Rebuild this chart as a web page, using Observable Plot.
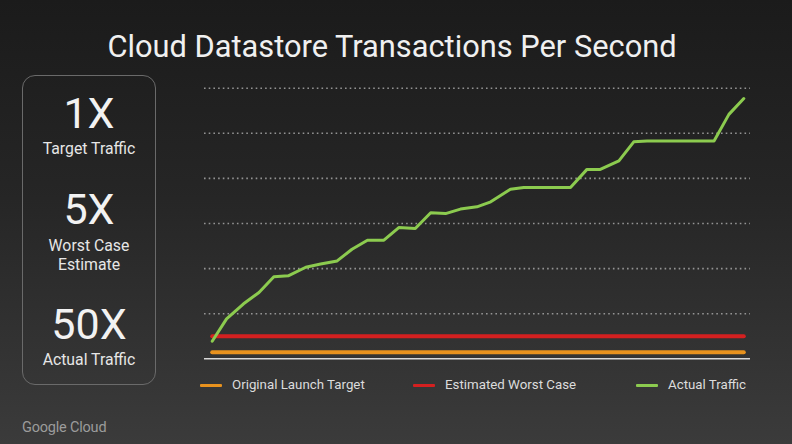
<!DOCTYPE html>
<html>
<head>
<meta charset="utf-8">
<script src="https://cdn.jsdelivr.net/npm/d3@7"></script>
<script src="https://cdn.jsdelivr.net/npm/@observablehq/plot@0.6"></script>
<style>
  html, body { margin: 0; padding: 0; }
  body { width: 792px; height: 444px; overflow: hidden; position: relative;
         background: linear-gradient(to bottom, #1b1b1b 0%, #262626 45%, #3b3b3b 100%);
         font-family: Roboto, "Noto Sans", sans-serif; color: #f2f2f2; }
  #title { position: absolute; left: 0; width: 784px; top: 28px; text-align: center;
           font-size: 30.8px; line-height: 38px; color: #f0f0f0; }
  #box { position: absolute; left: 22px; top: 75px; width: 134px; height: 310px;
         border: 1.3px solid #6a6a6a; border-radius: 13px; box-sizing: border-box; }
  .big { position: absolute; left: 22px; width: 134px; text-align: center; font-size: 43px; line-height: 46px; color: #f2f2f2; }
  .small { position: absolute; left: 22px; width: 134px; text-align: center; font-size: 15.8px; line-height: 19px; color: #e6e6e6; }
  #chart { position: absolute; left: 0; top: 0; }
  #legend { position: absolute; top: 376px; left: 0; width: 792px; height: 18px; font-size: 13.3px; color: #dcdcdc; }
  .item { position: absolute; top: 0; line-height: 18px; white-space: nowrap; }
  .sw { display: inline-block; width: 22px; height: 3.5px; vertical-align: middle; margin-right: 10px; border-radius: 1px; }
  #brand { position: absolute; left: 22px; top: 419px; font-size: 14.5px; color: #9c9c9c; letter-spacing: -0.2px; }
</style>
</head>
<body>
<div id="title">Cloud Datastore Transactions Per Second</div>
<div id="box"></div>
<div id="stats"></div>
<div id="chart"></div>
<div id="legend"></div>
<div id="brand">Google Cloud</div>
<script>
// Series values (time index 0–100, traffic in arbitrary units)
const actualX = [0, 2.7, 5.9, 8.8, 11.6, 14.3, 17.6, 20.4, 23.5, 26.3, 29.2, 32.3, 35.1, 38.2, 41.1, 43.9, 46.7, 49.8, 52.4, 56.1, 58.6, 67.4, 70.5, 73.0, 76.5, 79.3, 81.8, 94.4, 97.2, 100];
const actualY = [3.9, 8.85, 12.2, 14.7, 18.2, 18.4, 20.3, 21.0, 21.7, 24.3, 26.3, 26.3, 29.1, 28.9, 32.4, 32.2, 33.2, 33.7, 34.8, 37.6, 38.0, 38.0, 42.0, 42.0, 43.9, 48.1, 48.3, 48.3, 54.2, 57.7];
const launchTarget = 1.45;
const worstCase = 5.0;
const xStart = 0, xEnd = 100;
const gridTicks = [10, 20, 30, 40, 50, 60];

const seriesNames = ["Original Launch Target", "Estimated Worst Case", "Actual Traffic"];
const seriesColors = ["#e8921e", "#d42020", "#8ccb4f"];

const statBig = ["1X", "5X", "50X"];
const statSmall = [["Target Traffic"], ["Worst Case", "Estimate"], ["Actual Traffic"]];
const statBigTop = [90, 186, 301];
const statSmallTop = [139, 236, 350];

// left stats box
const stats = document.getElementById("stats");
statBig.forEach((t, i) => {
  const b = document.createElement("div");
  b.className = "big"; b.style.top = statBigTop[i] + "px"; b.textContent = t;
  stats.appendChild(b);
  const s = document.createElement("div");
  s.className = "small"; s.style.top = statSmallTop[i] + "px";
  s.innerHTML = statSmall[i].join("<br>");
  stats.appendChild(s);
});

const actual = actualX.map((x, i) => ({x, y: actualY[i]}));
const flat = (v) => [{x: xStart, y: v}, {x: xEnd, y: v}];

const plot = Plot.plot({
  width: 792,
  height: 444,
  marginLeft: 204,
  marginRight: 42,
  marginTop: 87.7,
  marginBottom: 85.7,
  insetLeft: 7.7,
  insetRight: 6.7,
  x: {domain: [xStart, xEnd], axis: null},
  y: {domain: [0, 60], axis: null},
  style: {background: "transparent", overflow: "visible"},
  marks: [
    Plot.ruleY(gridTicks, {stroke: "#a0a0a0", strokeWidth: 1.6, strokeDasharray: "1.6,3.1", strokeOpacity: 0.9}),
    Plot.ruleY([0], {stroke: "#d8d8d8", strokeWidth: 1.6}),
    Plot.line(flat(launchTarget), {x: "x", y: "y", stroke: seriesColors[0], strokeWidth: 4}),
    Plot.line(flat(worstCase), {x: "x", y: "y", stroke: seriesColors[1], strokeWidth: 4}),
    Plot.line(actual, {x: "x", y: "y", stroke: seriesColors[2], strokeWidth: 3, strokeLinejoin: "round"})
  ]
});
document.getElementById("chart").appendChild(plot);

// legend
const legendLeft = [200, 413, 636];
const legend = document.getElementById("legend");
seriesNames.forEach((n, i) => {
  const it = document.createElement("div");
  it.className = "item"; it.style.left = legendLeft[i] + "px";
  it.innerHTML = `<span class="sw" style="background:${seriesColors[i]}"></span>${n}`;
  legend.appendChild(it);
});
</script>
</body>
</html>
